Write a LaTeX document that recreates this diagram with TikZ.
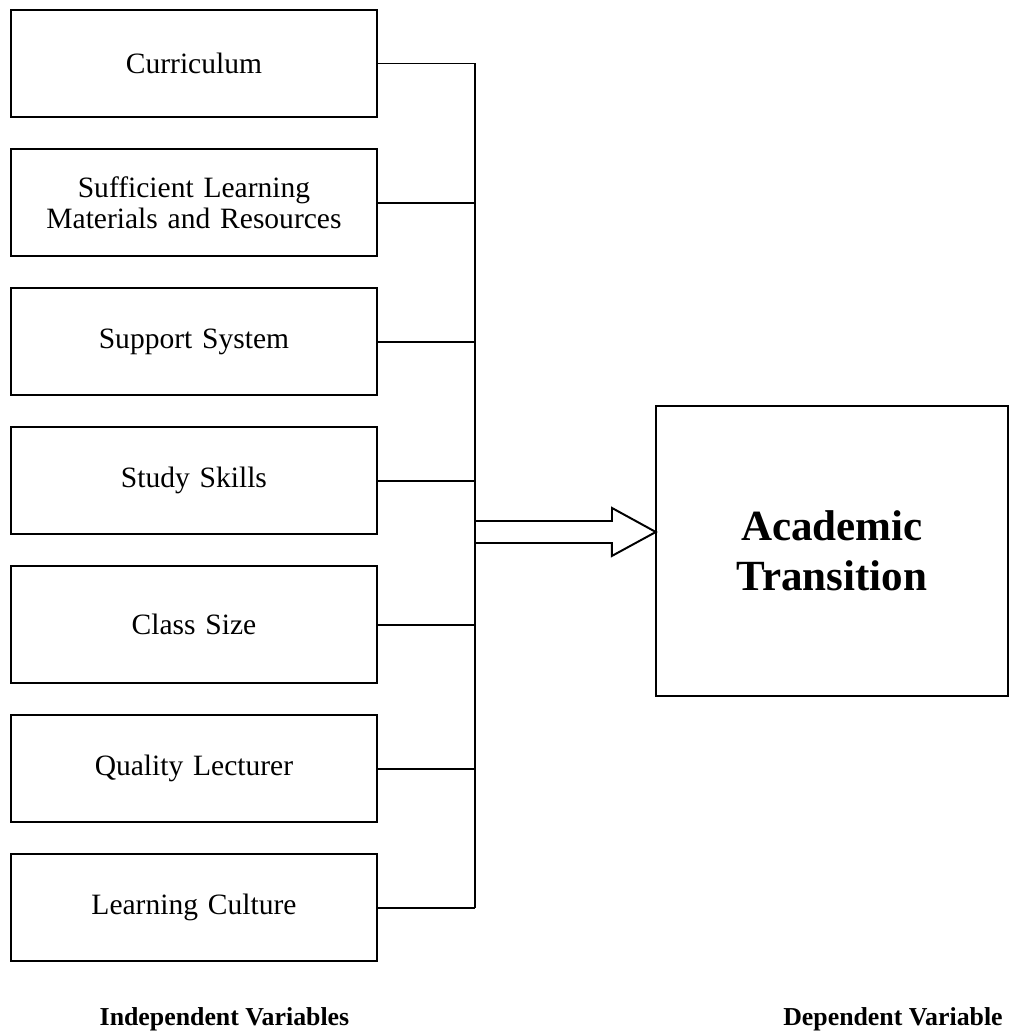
\documentclass[tikz,border=0pt]{standalone}
\usepackage{fontspec}
\setmainfont{Liberation Serif}
\usetikzlibrary{positioning}
\tikzset{
  varbox/.style={rectangle,draw=black,line width=0.9pt,
    minimum width=5.23cm,minimum height=1.53cm,text width=4.9cm,align=center,
    inner sep=0pt,outer sep=0pt,font=\fontsize{12}{12.5}\selectfont},
  outbox/.style={rectangle,draw=black,line width=0.9pt,
    minimum width=5.03cm,minimum height=4.14cm,text width=4.8cm,align=center,
    outer sep=0pt,font=\fontsize{17.5}{20.5}\selectfont\bfseries},
  caption/.style={anchor=base,font=\fontsize{10.5}{12}\selectfont\bfseries},
  link/.style={line width=0.8pt}
}

\begin{document}
\begin{tikzpicture}[node distance=0.457cm]
  \useasboundingbox (0,0) rectangle (14.414,-14.743);
  \node[varbox] (c1) at (2.771,-0.907) {Curriculum};
  \node[varbox, below=of c1] (c2) {Sufficient Learning\\Materials and Resources};
  \node[varbox, below=of c2] (c3) {Support System};
  \node[varbox, below=of c3] (c4) {Study Skills};
  \node[varbox, below=of c4, minimum height=1.67cm] (c5) {Class Size};
  \node[varbox, below=of c5] (c6) {Quality Lecturer};
  \node[varbox, below=of c6] (c7) {Learning Culture};
  \node[outbox] (dv) at (11.886,-7.871) {Academic\\Transition\\[0.3cm]};
  \coordinate (bus) at (6.786,0);
  \coordinate (hub) at (6.786,-7.6);
  % lines into the bus
  \foreach \i in {1,...,7}
    \draw[link] (c\i.east) -- (c\i.east -| bus);
  \draw[link] (c1.east -| bus) -- (c7.east -| bus);
  % hollow arrow
  \draw[link] (hub) ++(0,0.157) -- ++(1.957,0) -- ++(0,0.186) -- (hub -| dv.west)
    -- ++(-0.629,-0.343) -- ++(0,0.186) -- ++(-1.957,0);
  \node[caption] (ivlabel) at (3.207,-14.643) {Independent Variables};
  \node[caption] (dvlabel) at (12.757,-14.643) {Dependent Variable};
\end{tikzpicture}
\end{document}
